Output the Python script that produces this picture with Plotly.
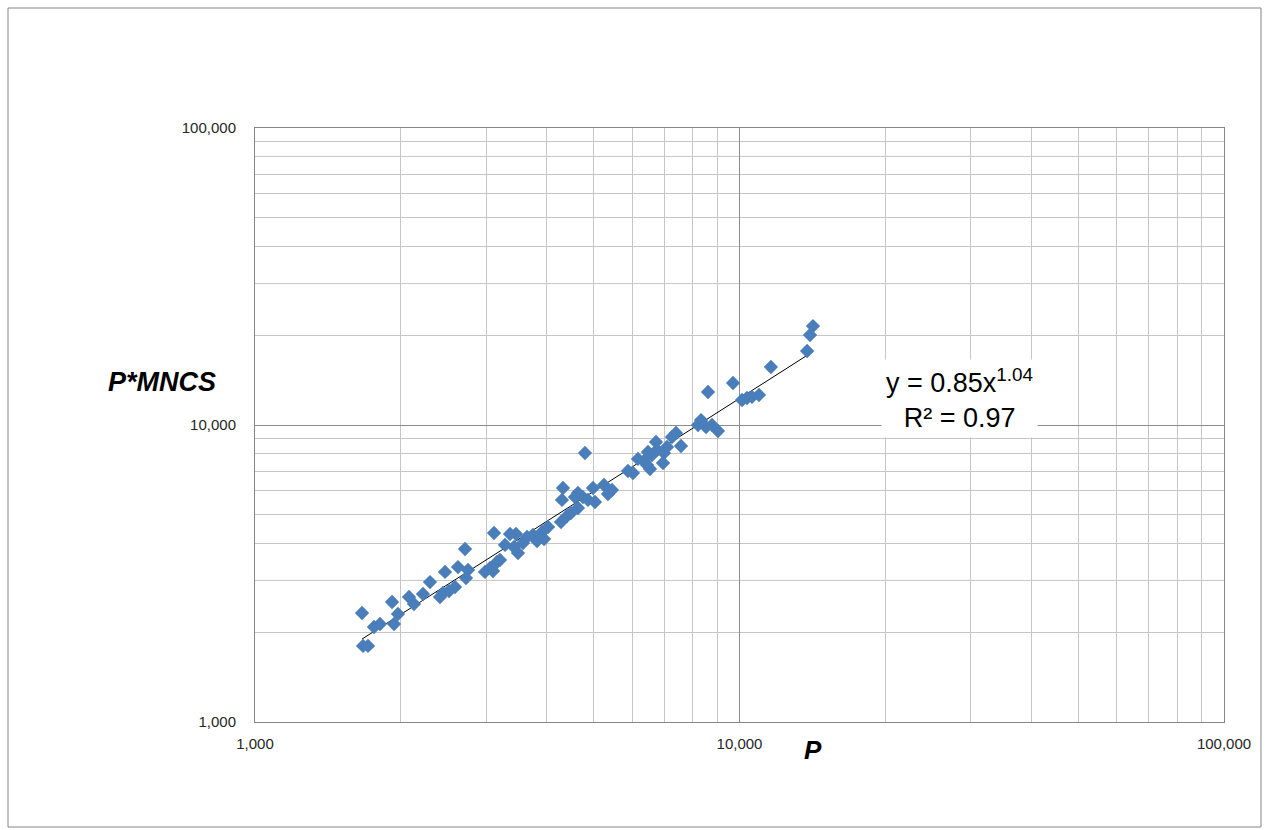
import plotly.graph_objects as go

# Data
P = [1663, 1671, 1711, 1760, 1811, 1918, 1936, 1973, 2079, 2129,
     2222, 2297, 2409, 2443, 2467, 2514, 2587, 2624, 2713, 2726,
     2752, 2983, 3055, 3099, 3114, 3159, 3204, 3281, 3360, 3424,
     3457, 3490, 3574, 3643, 3748, 3820, 3912, 3950, 4025, 4281,
     4301, 4322, 4405, 4489, 4575, 4641, 4641, 4753, 4798, 4867,
     4984, 5032, 5251, 5352, 5455, 5886, 6027, 6172, 6351, 6442,
     6473, 6535, 6597, 6724, 6756, 6952, 6985, 7085, 7256, 7395,
     7573, 8212, 8330, 8531, 8610, 8774, 9028, 9697, 10120, 10360,
     10610, 10970, 11610, 13790, 13980, 14180]
P_MNCS = [2328, 1803, 1803, 2089, 2138, 2535, 2138, 2310, 2636, 2496,
          2698, 2960, 2636, 2719, 3200, 2761, 2848, 3325, 3824, 3053,
          3249, 3200, 3299, 3224, 4328, 3457, 3511, 3945, 4295, 3884,
          4295, 3707, 4006, 4196, 4262, 4069, 4362, 4132, 4535, 4714,
          5592, 6136, 4939, 5055, 5721, 5255, 5902, 5721, 8048, 5592,
          6136, 5505, 6281, 5857, 6041, 7000, 6892, 7685, 7567, 7336,
          8111, 7110, 7925, 8766, 8238, 7449, 8048, 8433, 9112, 9399,
          8499, 10000, 10390, 9846, 12915, 10000, 9546, 13850, 12140, 12330,
          12430, 12620, 15680, 17750, 20090, 21540]

# Power trendline y = a * x^b
fit_a = 0.85
fit_b = 1.04
trend_x = [min(P), max(P)]
trend_y = [fit_a * v ** fit_b for v in trend_x]

tick_vals = [1000, 10000, 100000]
tick_text = ["1,000", "10,000", "100,000"]
minor_vals = [m * d for d in (1000, 10000) for m in range(2, 10)]

W, H = 1267, 830
L, R, T, B = 255, 43, 128, 108
pw, ph = W - L - R, H - T - B

def px(x):
    return (x - L) / pw

def py(y):
    return (H - B - y) / ph

fig = go.Figure()
fig.add_trace(go.Scatter(
    x=trend_x, y=trend_y, mode="lines",
    line=dict(color="black", width=1), showlegend=False, hoverinfo="skip"))
fig.add_trace(go.Scatter(
    x=P, y=P_MNCS, mode="markers",
    marker=dict(symbol="diamond", size=11, color="#4a7ebb",
                line=dict(width=0)),
    showlegend=False))

axis_common = dict(
    type="log", tickvals=tick_vals, ticktext=tick_text,
    showgrid=True, gridcolor="#8c8c8c", gridwidth=1,
    showline=True, linecolor="#868686", linewidth=1, mirror=True,
    ticks="", zeroline=False,
    tickfont=dict(family="Arial", size=15, color="#262626"),
    minor=dict(tickvals=minor_vals, showgrid=True, gridcolor="#c6c6c6",
               gridwidth=1, ticks=""),
)

fig.update_layout(
    width=W, height=H,
    margin=dict(l=L, r=R, t=T, b=B),
    paper_bgcolor="white", plot_bgcolor="white",
    xaxis=dict(range=[3, 5], ticklabelstandoff=8, **axis_common),
    yaxis=dict(range=[3, 5], ticklabelstandoff=15, **axis_common),
    font=dict(family="Arial"),
    annotations=[
        dict(xref="paper", yref="paper", x=px(813), y=py(750),
             xanchor="center", yanchor="middle",
             text="<b><i>P</i></b>", showarrow=False,
             font=dict(family="Arial", size=26, color="black")),
        dict(xref="paper", yref="paper", x=px(162), y=py(382),
             xanchor="center", yanchor="middle",
             text="<b><i>P*MNCS</i></b>", showarrow=False,
             font=dict(family="Arial", size=27, color="black")),
        dict(xref="paper", yref="paper", x=px(959), y=py(398),
             xanchor="center", yanchor="middle",
             text="y = 0.85x<sup>1.04</sup><br>R² = 0.97", showarrow=False,
             align="center", bgcolor="white", borderpad=4,
             font=dict(family="Arial", size=27, color="black")),
    ],
    shapes=[
        dict(type="rect", xref="paper", yref="paper",
             x0=px(8), x1=px(1261), y0=py(827), y1=py(8),
             line=dict(color="#868686", width=1), layer="below"),
    ],
)

fig.write_html("out.html", config={"displayModeBar": False},
               post_script="document.body.style.margin='0';")
